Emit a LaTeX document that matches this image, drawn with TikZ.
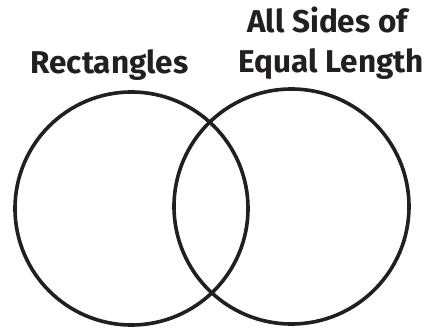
\documentclass[tikz,border=0pt]{standalone}
\usepackage{fontspec}
\setmainfont{Fira Sans}
\definecolor{ink}{HTML}{231F20}
\begin{document}
\begin{tikzpicture}[x=1pt,y=-1pt,
  ring/.style={draw=ink,line width=3.6pt},
  label/.style={text=ink,font=\bfseries\fontsize{31.5}{31.5}\selectfont,inner sep=0pt,anchor=base}]
\useasboundingbox (0,0) rectangle (429,329);
\node[ring,circle,minimum size=233pt,inner sep=0pt] (left) at (131.5,208.5) {};
\node[ring,circle,minimum size=235pt,inner sep=0pt] (right) at (291.5,206.5) {};
\node[label] (rect) at (109.5,74) {Rectangles};
\node[label] (all) at (327.5,33) {All Sides of};
\node[label] (equal) at (331.5,73) {Equal Length};
\end{tikzpicture}
\end{document}
